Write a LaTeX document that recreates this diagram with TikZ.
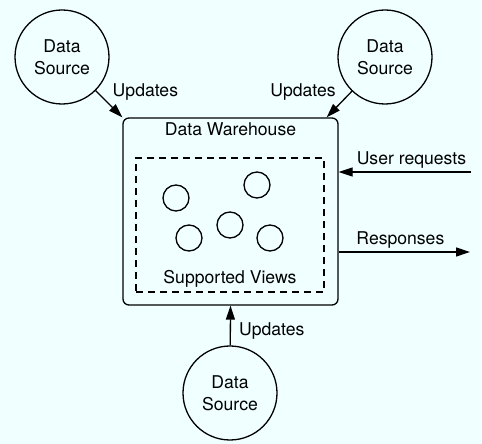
\documentclass[tikz,border=0pt]{standalone}
\usepackage{fontspec}
\setmainfont{TeX Gyre Heros}
\usetikzlibrary{arrows.meta, calc, positioning}
\definecolor{bgwh}{HTML}{F0FFFF}

\begin{document}
\begin{tikzpicture}[x=1pt, y=1pt, line width=1.3pt,
                >={Triangle[length=14pt, width=9pt]},
                source/.style={circle, draw, minimum size=94pt, inner sep=0pt, align=center},
                view/.style={circle, draw, minimum size=26pt, inner sep=0pt}]
            \tikzstyle{every node}=[font=\fontsize{17.6}{22}\selectfont, inner sep=3pt]
            \fill[bgwh] (0,0) rectangle (482,444);
            % data sources
            \node[source] (srcl) at (62,387) {Data\\Source};
            \node[source] (srcr) at (385,387) {Data\\Source};
            \node[source] (srcb) at (230,51) {Data\\Source};
            % warehouse
            \node[draw, rounded corners=6pt, minimum width=215pt, minimum height=187pt] (wh) at (230.5,232.5) {};
            \node[below=2pt of wh.north] (whtitle) {Data Warehouse};
            \node[draw, dashed, dash pattern=on 7pt off 5pt, minimum width=188pt, minimum height=134pt] (views) at (230,219) {};
            \node[above=2pt of views.south] (vtitle) {Supported Views};
            \node[view] (v1) at (176,246) {};
            \node[view] (v2) at (257,259) {};
            \node[view] (v3) at (230,219) {};
            \node[view] (v4) at (189,206) {};
            \node[view] (v5) at (270,206) {};
            % outside ends
            \coordinate (req) at (471,272);
            \coordinate (resp) at (470,192);
            \draw[->] (srcl) -- (wh.north west) node[midway, above right] {Updates};
            \draw[->] (srcr) -- ([xshift=-12pt]wh.north east) node[midway, above left] {Updates};
            \draw[->] (srcb) -- (wh.south) node[pos=0.35, right=5pt] {Updates};
            \draw[->] (req) -- (req -| wh.east) node[pos=0.45, above] {User requests};
            \draw[->] (resp -| wh.east) -- (resp) node[pos=0.47, above] {Responses};
        \end{tikzpicture}
\end{document}
